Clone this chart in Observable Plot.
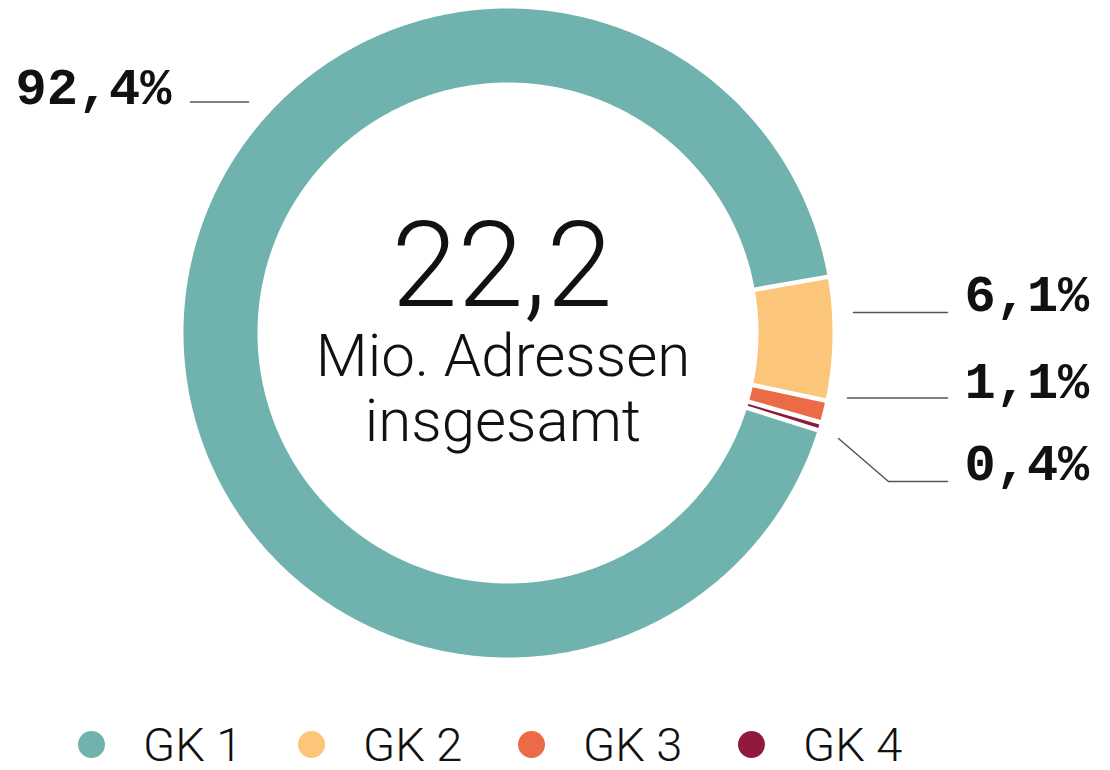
<!DOCTYPE html>
<html>
<head>
<meta charset="utf-8">
<script src="https://cdn.jsdelivr.net/npm/d3@7"></script>
<script src="https://cdn.jsdelivr.net/npm/@observablehq/plot@0.6"></script>
<style>
  body { margin: 0; background: #fff; }
  #chart { width: 1110px; }
  .legend { display: flex; padding-left: 78px; height: 52px; align-items: center; font-family: Roboto, sans-serif; font-weight: 300; font-size: 47px; color: #111; }
  .legend .item { display: flex; align-items: center; width: 220px; }
  .legend .sw { width: 27px; height: 27px; border-radius: 50%; margin-right: 38px; }
</style>
</head>
<body>
<div id="chart"></div>
<script>
// ---- data ----
const categories = ["GK 1", "GK 2", "GK 3", "GK 4"];
const shares = [92.4, 6.1, 1.1, 0.4];            // percent of addresses
const colors = ["#6fb2ae", "#fcc67a", "#ec6b47", "#8f1a3c"];
const totalValue = "22,2";
const centerLines = ["Mio. Adressen", "insgesamt"];

// ---- layout (pixels) ----
const W = 1110, H = 718;
const cx = 507.5, cy = 332.5, R = 324.5, r0 = 250.5, gap = 4.5;
const startDeg = 107.4;   // GK 1 begins here, clockwise from 12 o'clock
// label anchor layout: text position and leader-line path
const labelLayout = [
  {tx: 171, ty: 103, anchor: "end",   path: [[190, 101.5], [248, 101.5]]},
  {tx: 964, ty: 310, anchor: "start", path: [[853, 312], [947, 312]]},
  {tx: 964, ty: 397, anchor: "start", path: [[847, 397.5], [947, 397.5]]},
  {tx: 964, ty: 479, anchor: "start", path: [[838, 438], [888, 481], [947, 481]]}
];

// ---- build ring polygons from shares ----
const sum = d3.sum(shares);
const ringPts = [];
let acc = startDeg * Math.PI / 180;
shares.forEach((v, i) => {
  const a0 = acc, a1 = acc + v / sum * 2 * Math.PI;
  acc = a1;
  const oa0 = a0 + gap / 2 / R, oa1 = a1 - gap / 2 / R;
  const ia0 = a0 + gap / 2 / r0, ia1 = a1 - gap / 2 / r0;
  const n = Math.max(2, Math.ceil((a1 - a0) * 180 / Math.PI * 2));
  for (let k = 0; k <= n; k++) {
    const a = oa0 + (oa1 - oa0) * k / n;
    ringPts.push({cat: categories[i], x: cx + R * Math.sin(a), y: cy - R * Math.cos(a)});
  }
  for (let k = n; k >= 0; k--) {
    const a = ia0 + (ia1 - ia0) * k / n;
    ringPts.push({cat: categories[i], x: cx + r0 * Math.sin(a), y: cy - r0 * Math.cos(a)});
  }
});

const fmt = v => d3.format(".1f")(v).replace(".", ",") + "%";
const labels = shares.map((v, i) => ({text: fmt(v), x: labelLayout[i].tx, y: labelLayout[i].ty, anchor: labelLayout[i].anchor}));
const leaders = labelLayout.flatMap((l, i) => l.path.map(([x, y]) => ({id: i, x, y})));

const centerText = [
  {text: totalValue, x: cx - 6, y: 305, size: 119},
  {text: centerLines[0], x: cx - 5, y: 375, size: 60},
  {text: centerLines[1], x: cx - 5, y: 440, size: 60}
];

const plot = Plot.plot({
  width: W, height: H, margin: 0,
  x: {domain: [0, W], range: [0, W], axis: null},
  y: {domain: [0, H], range: [0, H], axis: null},
  color: {domain: categories, range: colors},
  marks: [
    Plot.line(ringPts, {x: "x", y: "y", z: "cat", fill: "cat", stroke: null}),
    Plot.line(leaders, {x: "x", y: "y", z: "id", stroke: "#555", strokeWidth: 1.5}),
    Plot.text(labels.filter(d => d.anchor === "end"), {x: "x", y: "y", text: "text", textAnchor: "end", lineAnchor: "bottom", fontFamily: "Liberation Mono", fontWeight: "bold", fontSize: 52, fill: "#111"}),
    Plot.text(labels.filter(d => d.anchor === "start"), {x: "x", y: "y", text: "text", textAnchor: "start", lineAnchor: "bottom", fontFamily: "Liberation Mono", fontWeight: "bold", fontSize: 52, fill: "#111"}),
    Plot.text(centerText, {x: "x", y: "y", text: "text", fontSize: d => d.size, textAnchor: "middle", lineAnchor: "bottom", fontFamily: "Roboto", fontWeight: 300, fill: "#111"})
  ]
});
document.getElementById("chart").appendChild(plot);

const legend = document.createElement("div");
legend.className = "legend";
categories.forEach((c, i) => {
  const it = document.createElement("div");
  it.className = "item";
  const sw = document.createElement("span");
  sw.className = "sw";
  sw.style.background = colors[i];
  const t = document.createElement("span");
  t.textContent = c;
  it.appendChild(sw); it.appendChild(t);
  legend.appendChild(it);
});
document.getElementById("chart").appendChild(legend);
</script>
</body>
</html>
